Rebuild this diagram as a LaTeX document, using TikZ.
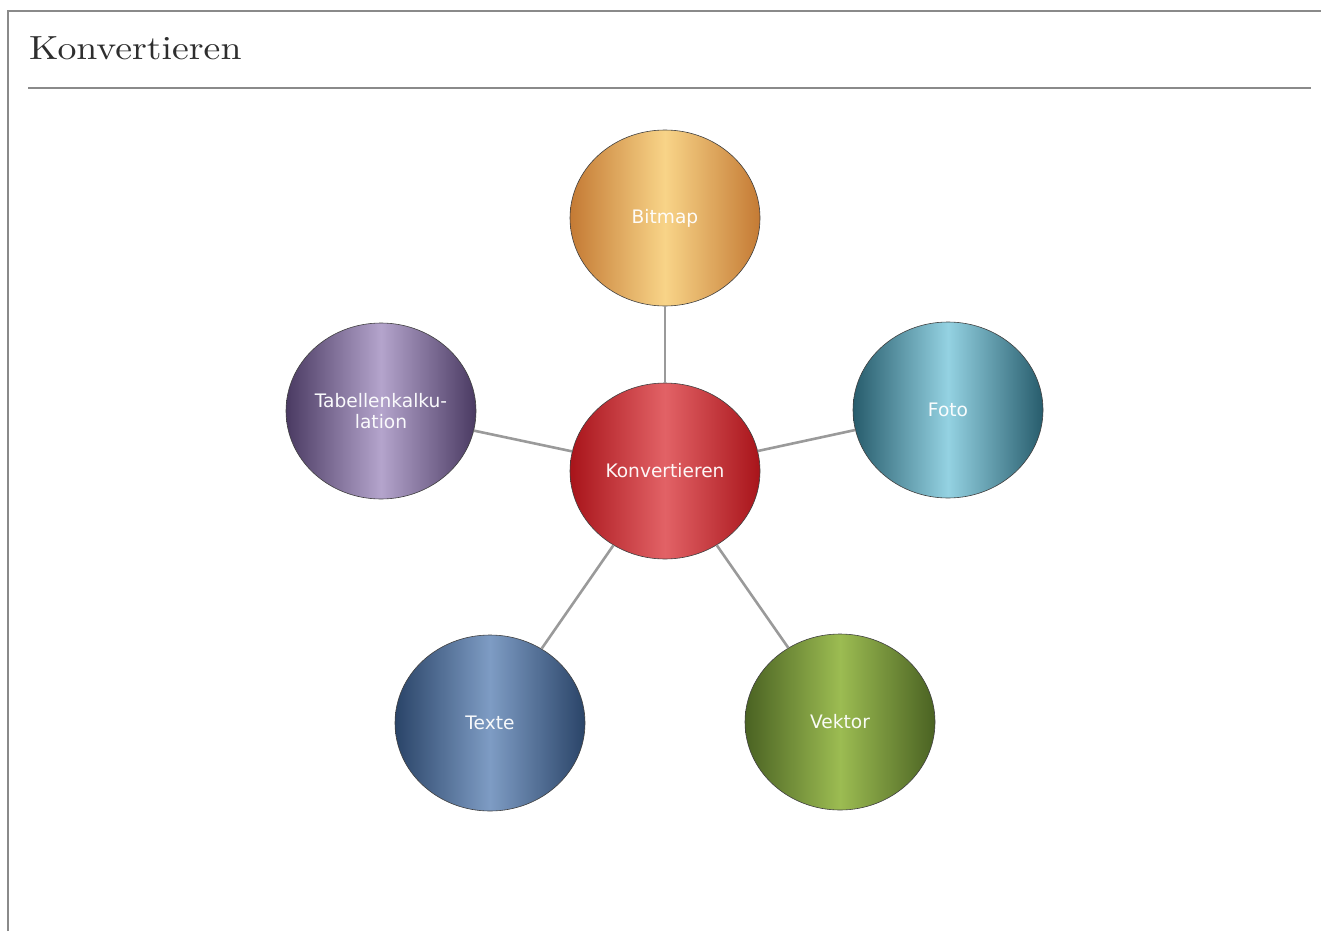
\documentclass[tikz,border=0pt]{standalone}
\usepackage{fontspec}
\usetikzlibrary{shapes.geometric}
\newfontfamily\diagsans{DejaVu Sans}
\definecolor{framegray}{HTML}{8A8A8A}
\definecolor{linkgray}{HTML}{9A9A9A}
\definecolor{titlegray}{HTML}{2E2E2E}
\definecolor{orgA}{HTML}{C47A34}\definecolor{orgB}{HTML}{F8D488}
\definecolor{redA}{HTML}{A8141A}\definecolor{redB}{HTML}{E26266}
\definecolor{purA}{HTML}{4A3A62}\definecolor{purB}{HTML}{B4A4CC}
\definecolor{tealA}{HTML}{275C6C}\definecolor{tealB}{HTML}{94D2E2}
\definecolor{bluA}{HTML}{2A4468}\definecolor{bluB}{HTML}{7E9CC4}
\definecolor{grnA}{HTML}{4A6222}\definecolor{grnB}{HTML}{9CBC52}
\tikzset{
  bubble/.style n args={2}{ellipse, draw=black!75, line width=0.6pt,
    minimum width=190pt, minimum height=176pt, inner sep=0pt,
    left color=#1, right color=#1, middle color=#2,
    text=white!94!#2, font=\diagsans\fontsize{18.6}{21}\selectfont, align=center},
  link/.style={draw=linkgray, line width=2.6pt},
  frameline/.style={draw=framegray, line width=1.6pt}
}
\begin{document}
\begin{tikzpicture}[x=1pt,y=-1pt]
\useasboundingbox (0,0) rectangle (1321,931);
\draw[frameline] (8,931) -- (8,11) -- (1321,11);
\draw[frameline] (28,88) -- (1311,88);
\node[anchor=base west, inner sep=0pt, text=titlegray] (title) at (29,60) {\scalebox{3.78}[3.35]{\fontsize{10}{12}\selectfont Konvertieren}};
\node[bubble={redA}{redB}] (center) at (665,471) {Konvertieren};
\node[bubble={orgA}{orgB}] (bitmap) at (665,218) {Bitmap};
\node[bubble={tealA}{tealB}] (foto) at (948,410) {Foto};
\node[bubble={grnA}{grnB}] (vektor) at (840,722) {Vektor};
\node[bubble={bluA}{bluB}] (texte) at (490,723) {Texte};
\node[bubble={purA}{purB}] (tabelle) at (381,411) {Tabellenkalku-\\lation};
\draw[link] (center) -- (bitmap);
\draw[link] (center) -- (foto);
\draw[link] (center) -- (vektor);
\draw[link] (center) -- (texte);
\draw[link] (center) -- (tabelle);
\end{tikzpicture}
\end{document}
